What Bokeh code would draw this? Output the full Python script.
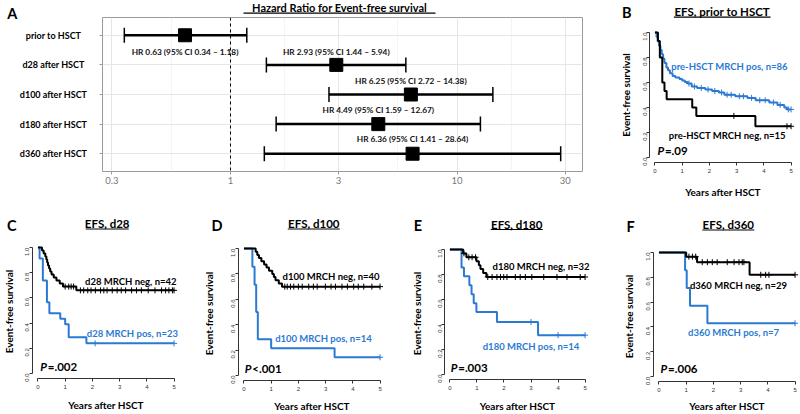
import math
from bokeh.plotting import figure
from bokeh.layouts import row, column
from bokeh.models import Range1d, FixedTicker, PrintfTickFormatter, Span, ColumnDataSource
from bokeh.core.properties import value
from bokeh.embed import file_html
from bokeh.resources import INLINE

# ---------------- data ----------------
# Panel A: hazard ratios for event-free survival
forest_groups = ["prior to HSCT", "d28 after HSCT", "d100 after HSCT", "d180 after HSCT", "d360 after HSCT"]
forest_hr = [0.63, 2.93, 6.25, 4.49, 6.36]
forest_ci_low = [0.34, 1.44, 2.72, 1.59, 1.41]
forest_ci_high = [1.18, 5.94, 14.38, 12.67, 28.64]
forest_ticks = [0.3, 1, 3, 10, 30]
forest_title = "Hazard Ratio for Event-free survival"
forest_pos = list(range(1, len(forest_groups) + 1))   # category slots, top to bottom

years_ticks = [0, 1, 2, 3, 4, 5]
surv_ticks = [0.0, 0.2, 0.4, 0.6, 0.8, 1.0]

# Panel B: prior to HSCT
b_pos_time = [0.06, 0.10, 0.15, 0.20, 0.25, 0.30, 0.35, 0.42, 0.48, 0.55, 0.65, 0.75, 0.90, 1.00, 1.10,
              1.20, 1.35, 1.55, 1.85, 2.10, 2.35, 2.55, 2.95, 3.40, 3.70, 4.20, 4.50, 4.75, 4.85]
b_pos_surv = [0.965, 0.93, 0.895, 0.86, 0.826, 0.79, 0.756, 0.72, 0.698, 0.674, 0.652, 0.64, 0.628, 0.616, 0.604,
              0.592, 0.568, 0.556, 0.544, 0.532, 0.52, 0.502, 0.49, 0.477, 0.458, 0.44, 0.421, 0.40, 0.385]
b_pos_cens = [1.25, 1.45, 1.7, 1.95, 2.2, 2.45, 2.65, 2.8, 3.1, 3.25, 3.55, 3.85, 4.05, 4.35, 4.6, 4.9, 5.0]
b_neg_time = [0.11, 0.18, 0.27, 0.35, 0.43, 1.37, 1.52, 3.69]
b_neg_surv = [0.933, 0.8, 0.6, 0.533, 0.467, 0.4, 0.333, 0.25]
b_neg_cens = [2.9, 4.85, 5.0]

# Panel C: d28
c_neg_time = [0.15, 0.21, 0.27, 0.31, 0.34, 0.37, 0.41, 0.45, 0.50, 0.58, 0.68, 0.80, 0.92, 1.41]
c_neg_surv = [0.976, 0.952, 0.929, 0.905, 0.881, 0.857, 0.833, 0.81, 0.786, 0.762, 0.738, 0.714, 0.69, 0.66]
c_neg_cens = [1.0, 1.13, 1.22, 1.31, 1.56, 1.68, 1.83, 1.95, 2.11, 2.3, 2.42, 2.54, 2.73, 2.91, 3.06,
              3.22, 3.44, 3.62, 3.8, 4.05, 4.3, 4.54, 4.69, 4.81, 4.94, 5.0]
c_pos_time = [0.06, 0.18, 0.33, 0.42, 0.82, 1.0, 1.13, 1.78]
c_pos_surv = [0.913, 0.739, 0.565, 0.478, 0.435, 0.391, 0.287, 0.239]
c_pos_cens = [2.1, 5.0]

# Panel D: d100
d_neg_time = [0.43, 0.49, 0.55, 0.64, 0.74, 0.83, 0.92, 1.04, 1.10, 1.16, 1.28, 1.40]
d_neg_surv = [0.975, 0.95, 0.925, 0.90, 0.875, 0.85, 0.825, 0.80, 0.775, 0.75, 0.725, 0.70]
d_neg_cens = [1.5, 1.59, 1.71, 1.83, 2.0, 2.14, 2.38, 2.55, 2.69, 2.99, 3.2, 3.36, 3.6, 3.8, 4.03, 4.2, 4.4, 4.7, 5.0]
d_pos_time = [0.31, 0.39, 0.45, 0.51, 1.0, 3.33]
d_pos_surv = [0.857, 0.714, 0.5, 0.286, 0.214, 0.143]
d_pos_cens = [5.0]

# Panel E: d180
e_neg_time = [0.49, 0.61, 0.98, 1.07, 1.13, 1.23, 1.35]
e_neg_surv = [0.969, 0.938, 0.906, 0.875, 0.844, 0.8125, 0.78]
e_neg_cens = [0.52, 0.7, 0.82, 0.95, 1.4, 1.56, 1.74, 1.87, 1.99, 2.11, 2.42, 2.6, 2.79, 3.03, 3.47, 3.96, 4.33, 4.82, 5.0]
e_pos_time = [0.43, 0.52, 0.72, 0.80, 0.88, 0.98, 1.74, 3.26]
e_pos_surv = [0.857, 0.786, 0.714, 0.643, 0.571, 0.5, 0.42, 0.315]
e_pos_cens = [3.0, 4.0, 5.0]

# Panel F: d360
f_neg_time = [1.0, 1.4, 3.33]
f_neg_surv = [0.966, 0.922, 0.82]
f_neg_cens = [1.1, 1.23, 1.35, 1.59, 1.78, 1.96, 2.14, 2.51, 2.76, 2.94, 3.06, 3.12, 3.74, 3.92, 4.04, 5.0]
f_pos_time = [0.96, 1.02, 1.14, 1.78]
f_pos_surv = [0.857, 0.714, 0.571, 0.429]
f_pos_cens = [5.0]

km_titles = ["EFS, prior to HSCT", "EFS, d28", "EFS, d100", "EFS, d180", "EFS, d360"]
km_letters = ["B", "C", "D", "E", "F"]
km_neg_labels = ["pre-HSCT MRCH neg, n=15", "d28 MRCH neg, n=42", "d100 MRCH neg, n=40",
                 "d180 MRCH neg, n=32", "d360 MRCH neg, n=29"]
km_pos_labels = ["pre-HSCT MRCH pos, n=86", "d28 MRCH pos, n=23", "d100 MRCH pos, n=14",
                 "d180 MRCH pos, n=14", "d360 MRCH pos, n=7"]
km_p_text = ["=.09", "=.002", "<.001", "=.003", "=.006"]
km_curves = [
    (b_neg_time, b_neg_surv, b_neg_cens, b_pos_time, b_pos_surv, b_pos_cens),
    (c_neg_time, c_neg_surv, c_neg_cens, c_pos_time, c_pos_surv, c_pos_cens),
    (d_neg_time, d_neg_surv, d_neg_cens, d_pos_time, d_pos_surv, d_pos_cens),
    (e_neg_time, e_neg_surv, e_neg_cens, e_pos_time, e_pos_surv, e_pos_cens),
    (f_neg_time, f_neg_surv, f_neg_cens, f_pos_time, f_pos_surv, f_pos_cens),
]

# ---------------- layout / style (page pixel positions) ----------------
BLUE = "#2a7ad3"
LABEL_FONT = "Lato"
TICK_FONT = "Liberation Sans"
Y_LABEL = "Event-free survival"
X_LABEL = "Years after HSCT"

# Panel B (top row): strip + plot, axis labels from the axes
B_spec = dict(x0=600, x1=800, y0=0, y1=207, strip_h=22, frame=(649, 796, 27, 162),
              title=(721.7, 10.9, 16.6, 96.7), letter=(626.2, 12), std=(10, 6),
              neg=(2.66, 0.178), pos=(2.74, 0.729), p=(0.09, 0.053))
# Panels C-F (bottom row): left label column + (strip + plot)
bottom_specs = [
    dict(x0=0, x1=205, frame=(32, 179, 242, 378), title=(106.7, 223.2, 228.5, 43), letter=(11.3, 224.5),
         ylab_x=8.3, std=7, neg=(3.41, 0.733), pos=(3.47, 0.317), p=(0.085, 0.052)),
    dict(x0=205, x1=410, frame=(238, 385, 243, 381), title=(313.3, 223.2, 228.5, 52), letter=(216.5, 224.5),
         ylab_x=208.8, std=6, neg=(3.2, 0.777), pos=(2.92, 0.288), p=(0.03, 0.058)),
    dict(x0=410, x1=615, frame=(444, 590, 244, 380), title=(516.2, 223.6, 229, 52), letter=(417.3, 224.5),
         ylab_x=416.7, std=7, neg=(3.37, 0.862), pos=(3.0, 0.225), p=(0.03, 0.053)),
    dict(x0=615, x1=800, frame=(653, 800, 247, 383), title=(727.8, 224.2, 229.5, 52), letter=(630, 225.5),
         ylab_x=628.3, std=5, neg=(2.92, 0.736), pos=(2.74, 0.352), p=(0.06, 0.061)),
]
ROW2_Y0, ROW2_Y1, STRIP2_H, TICK_BORDER = 207, 414, 29, 14


def blank_fig(w, h, x_range, y_range):
    f = figure(width=w, height=h, x_range=x_range, y_range=y_range, output_backend="svg",
               toolbar_location=None, x_axis_location=None, y_axis_location=None,
               min_border_left=0, min_border_right=0, min_border_top=0, min_border_bottom=0)
    f.frame_align = False
    f.outline_line_color = None
    f.grid.visible = False
    return f


def title_strip(w, h, title, cx, cy, uy, tw, letter=None, letter_pos=None, title_size="11.5px"):
    s = blank_fig(w, h, Range1d(0, w), Range1d(h, 0))
    s.text(x=[cx], y=[cy], text=[title], text_align="center", text_baseline="middle",
           text_font=value(LABEL_FONT), text_font_style="bold", text_font_size=title_size, text_color="black")
    s.segment(x0=[cx - tw / 2], y0=[uy], x1=[cx + tw / 2], y1=[uy], line_color="black", line_width=1.2)
    if letter:
        s.text(x=[letter_pos[0]], y=[letter_pos[1]], text=[letter], text_align="center", text_baseline="middle",
               text_font=value(LABEL_FONT), text_font_style="bold", text_font_size="14.5px", text_color="black")
    return s


def surv_at(times, survs, t):
    s = 1.0
    for ti, si in zip(times, survs):
        if ti <= t:
            s = si
    return s


def km_plot(i, w, h, borders, std_x, std_y, neg, pos, pxy, with_ylabel):
    bl, br, bt, bb = borders
    p = figure(width=w, height=h, x_range=Range1d(-0.2, 5.2), y_range=Range1d(-0.04, 1.04),
               output_backend="svg", toolbar_location=None,
               min_border_left=bl, min_border_right=br, min_border_top=bt, min_border_bottom=bb)
    p.frame_align = False
    p.outline_line_color = None
    p.xgrid.visible = False
    p.ygrid.visible = False
    for ax in (p.xaxis[0], p.yaxis[0]):
        ax.axis_line_color = "#333333"
        ax.axis_line_width = 1
        ax.major_tick_line_color = "#333333"
        ax.major_tick_out = 3
        ax.major_tick_in = 0
        ax.minor_tick_line_color = None
        ax.major_label_text_font = TICK_FONT
        ax.major_label_text_font_size = "6px"
        ax.major_label_text_color = "#333333"
        ax.axis_label_text_font = LABEL_FONT
        ax.axis_label_text_font_size = "10px"
        ax.axis_label_text_font_style = "bold"
        ax.axis_label_text_color = "black"
    p.xaxis.ticker = FixedTicker(ticks=years_ticks)
    p.xaxis.bounds = (years_ticks[0], years_ticks[-1])
    p.xaxis.major_label_standoff = 3
    p.xaxis.axis_label = X_LABEL
    p.xaxis.axis_label_standoff = std_x
    p.yaxis.ticker = FixedTicker(ticks=surv_ticks)
    p.yaxis.bounds = (surv_ticks[0], surv_ticks[-1])
    p.yaxis.formatter = PrintfTickFormatter(format="%.1f")
    p.yaxis.major_label_orientation = math.pi / 2
    p.yaxis.major_label_standoff = 2
    if with_ylabel:
        p.yaxis.axis_label = Y_LABEL
        p.yaxis.axis_label_standoff = std_y

    nt, ns, nc, pt, ps, pc = km_curves[i]
    for (t, s, c, color) in ((pt, ps, pc, BLUE), (nt, ns, nc, "black")):
        p.step(x=[0] + t + [5], y=[1.0] + s + [s[-1]], mode="after", line_color=color, line_width=2)
        p.scatter(x=c, y=[surv_at(t, s, ci) for ci in c], marker="cross", size=6,
                  line_color=color, line_width=1)

    for (xy, txt, color) in ((neg, km_neg_labels[i], "black"), (pos, km_pos_labels[i], BLUE)):
        p.text(x=[xy[0]], y=[xy[1]], text=[txt], text_color=color, text_font=value(LABEL_FONT),
               text_font_style="bold", text_font_size="9.5px", text_align="center", text_baseline="middle")

    px, py = pxy
    p.text(x=[px], y=[py], text=["P"], text_font=value(LABEL_FONT), text_font_style="bold italic",
           text_font_size="11.5px", text_align="left", text_baseline="middle", text_color="black")
    p.text(x=[px], y=[py], text=[km_p_text[i]], x_offset=7.5, text_font=value(LABEL_FONT),
           text_font_style="bold", text_font_size="11.5px", text_align="left", text_baseline="middle",
           text_color="black")
    return p


# ---------- panel B ----------
S = B_spec
fl, fr, ft, fb = S["frame"]
wB = S["x1"] - S["x0"]
hB = S["y1"] - S["y0"] - S["strip_h"]
pB = km_plot(0, wB, hB, (fl - S["x0"], S["x1"] - fr, ft - S["strip_h"], S["y1"] - fb),
             S["std"][0], S["std"][1], S["neg"], S["pos"], S["p"], True)
tcx, tcy, tuy, ttw = S["title"]
stripB = title_strip(wB, S["strip_h"], km_titles[0], tcx - S["x0"], tcy, tuy, ttw,
                     km_letters[0], (S["letter"][0] - S["x0"], S["letter"][1]))
colB = column(stripB, pB)

# ---------- panels C-F ----------
bottom_cols = []
for k, S in enumerate(bottom_specs):
    i = k + 1
    fl, fr, ft, fb = S["frame"]
    lab_w = fl - TICK_BORDER - S["x0"]
    full_h = ROW2_Y1 - ROW2_Y0
    # left label column (y grows upward here): panel letter and rotated y-axis title
    lc = blank_fig(lab_w, full_h, Range1d(0, lab_w), Range1d(0, full_h))
    lc.text(x=[S["letter"][0] - S["x0"]], y=[ROW2_Y1 - S["letter"][1]], text=[km_letters[i]],
            text_align="center", text_baseline="middle", text_font=value(LABEL_FONT),
            text_font_style="bold", text_font_size="14.5px", text_color="black")
    lc.text(x=[S["ylab_x"] - S["x0"]], y=[ROW2_Y1 - (ft + fb) / 2 - 1], text=[Y_LABEL], angle=math.pi / 2,
            text_align="center", text_baseline="middle", text_font=value(LABEL_FONT),
            text_font_style="bold", text_font_size="10px", text_color="black")
    xs = S["x0"] + lab_w
    w = S["x1"] - xs
    plot_h = full_h - STRIP2_H
    plot_y0 = ROW2_Y0 + STRIP2_H
    p = km_plot(i, w, plot_h, (fl - xs, S["x1"] - fr, ft - plot_y0, ROW2_Y1 - fb),
                S["std"], 0, S["neg"], S["pos"], S["p"], False)
    tcx, tcy, tuy, ttw = S["title"]
    strip = title_strip(w, STRIP2_H, km_titles[i], tcx - xs, tcy - ROW2_Y0, tuy - ROW2_Y0, ttw)
    bottom_cols.append(row(lc, column(strip, p)))

# ---------------- Panel A: forest plot ----------------
A_lab_w, A_strip_h, A_w, A_h = 90, 15, 510, 192
A_borders = (12, 18, 2, 36)           # frame: x 102..582, y 17..171 on the page
log0 = math.log10(min(forest_ci_low))
log1 = math.log10(max(forest_ci_high))
pad = 0.05 * (log1 - log0)
y_lo, y_hi = forest_pos[0] - 0.6, forest_pos[-1] + 0.6

pA = figure(width=A_w, height=A_h, x_axis_type="log", x_range=Range1d(10 ** (log0 - pad), 10 ** (log1 + pad)),
            y_range=Range1d(y_hi, y_lo), output_backend="svg", toolbar_location=None,
            min_border_left=A_borders[0], min_border_right=A_borders[1],
            min_border_top=A_borders[2], min_border_bottom=A_borders[3])
pA.frame_align = False
pA.outline_line_color = "#9a9a9a"
pA.outline_line_width = 1

minor = [math.sqrt(a * b) for a, b in zip(forest_ticks[:-1], forest_ticks[1:])]
xt = FixedTicker(ticks=forest_ticks, minor_ticks=minor)
yt = FixedTicker(ticks=forest_pos)
pA.xaxis.ticker = xt
pA.xgrid.ticker = xt
pA.yaxis.ticker = yt
pA.ygrid.ticker = yt
pA.xaxis.formatter = PrintfTickFormatter(format="%g")
pA.xgrid.grid_line_color = "#e6e6e6"
pA.xgrid.minor_grid_line_color = "#efefef"
pA.xgrid.minor_grid_line_width = 0.7
pA.ygrid.grid_line_color = "#e6e6e6"
for ax in (pA.xaxis[0], pA.yaxis[0]):
    ax.axis_line_color = None
    ax.major_tick_line_color = "#9a9a9a"
    ax.major_tick_out = 3
    ax.major_tick_in = 0
    ax.minor_tick_line_color = None
pA.xaxis.major_label_text_font = LABEL_FONT
pA.xaxis.major_label_text_font_size = "9.5px"
pA.xaxis.major_label_text_color = "#777777"
pA.xaxis.major_label_standoff = 1
pA.yaxis.major_label_text_font_size = "1px"
pA.yaxis.major_label_text_color = None
pA.yaxis.major_label_standoff = 0

pA.add_layout(Span(location=1, dimension="height", line_color="black", line_width=1, line_dash="3 3"))

srcA = ColumnDataSource(dict(
    pos=forest_pos, hr=forest_hr, lo=forest_ci_low, hi=forest_ci_high,
    label=[f"HR {h:.2f} (95% CI {a:.2f} \u2013 {b:.2f})" for h, a, b in zip(forest_hr, forest_ci_low, forest_ci_high)],
    yoff=[17, -13, -14, -14.5, -15],
))
pA.segment(x0="lo", y0="pos", x1="hi", y1="pos", source=srcA, line_color="black", line_width=2.5)
pA.scatter(x="lo", y="pos", source=srcA, marker="dash", angle=math.pi / 2, size=15,
           line_color="black", line_width=1.5)
pA.scatter(x="hi", y="pos", source=srcA, marker="dash", angle=math.pi / 2, size=15,
           line_color="black", line_width=1.5)
pA.scatter(x="hr", y="pos", source=srcA, marker="square", size=13, fill_color="black", line_color="black")
pA.text(x="hr", y="pos", text="label", y_offset="yoff", source=srcA, text_font=value(LABEL_FONT),
        text_font_style="bold", text_font_size="8.3px", text_align="center", text_baseline="middle",
        text_color="#111111")

# left label column: same vertical scale as the forest frame, extended to the full column height
top_h = A_strip_h + A_h
frame_top = A_strip_h + A_borders[2]
frame_h = A_h - A_borders[2] - A_borders[3]
per_px = (y_hi - y_lo) / frame_h
labA = blank_fig(A_lab_w, top_h, Range1d(0, A_lab_w),
                 Range1d(y_hi + (top_h - frame_top - frame_h) * per_px, y_lo - frame_top * per_px))
labA.text(x=[53] * len(forest_groups), y=forest_pos, text=forest_groups, text_align="center",
          text_baseline="middle", text_font=value(LABEL_FONT), text_font_style="bold",
          text_font_size="9px", text_color="black")
labA.text(x=[6.7], y=[y_lo - (frame_top - 13.3) * per_px], text=["A"], text_align="left",
          text_baseline="middle", text_font=value(LABEL_FONT), text_font_style="bold",
          text_font_size="14.5px", text_color="black")

stripA = title_strip(A_w, A_strip_h, forest_title, 339 - A_lab_w, 6.7, 12.6, 192, title_size="11px")

top = row(labA, column(stripA, pA), colB)
bottom = row(*bottom_cols)
layout = column(top, bottom)

open("out.html", "w").write(file_html(layout, INLINE))
